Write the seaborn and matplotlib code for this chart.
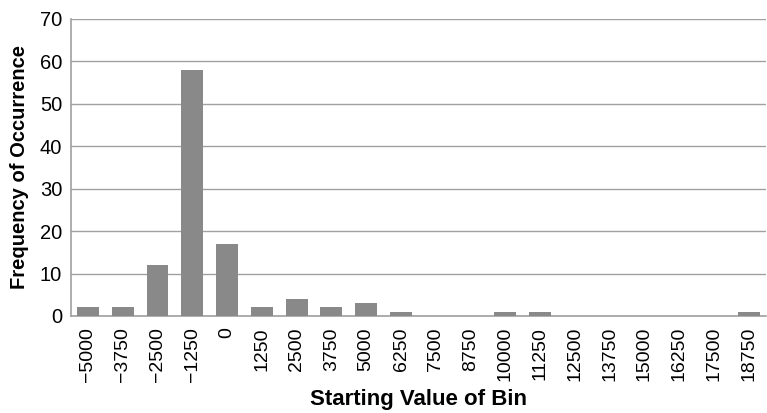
import matplotlib
matplotlib.use("Agg")
import matplotlib.pyplot as plt
import seaborn as sns
import pandas as pd

bins = [-5000, -3750, -2500, -1250, 0, 1250, 2500, 3750, 5000, 6250,
        7500, 8750, 10000, 11250, 12500, 13750, 15000, 16250, 17500, 18750]
counts = [2, 2, 12, 58, 17, 2, 4, 2, 3, 1, 0, 0, 1, 1, 0, 0, 0, 0, 0, 1]
labels = [str(b).replace("-", "\u2212") for b in bins]

sns.set_theme(style="white")
plt.rcParams['font.family'] = ['Liberation Sans', 'DejaVu Sans']
plt.rcParams['text.color'] = 'black'
plt.rcParams['axes.labelcolor'] = 'black'
plt.rcParams['xtick.color'] = 'black'
plt.rcParams['ytick.color'] = 'black'

df = pd.DataFrame({"bin": labels, "count": counts})

fig = plt.figure(figsize=(7.67, 4.13), dpi=100)
ax = fig.add_axes([0.092, 0.235, 0.907, 0.719])
sns.barplot(data=df, x="bin", y="count", color="#898989", width=0.63,
            saturation=1, linewidth=0, ax=ax, zorder=3)
ax.set_ylim(0, 70)
ax.set_yticks(range(0, 71, 10))
ax.set_xlim(-0.5, len(bins) - 0.5)
ax.yaxis.grid(True, color="#a0a0a0", linewidth=1, zorder=0)
ax.set_axisbelow(True)
for s in ["top", "right"]:
    ax.spines[s].set_visible(False)
for s in ["left", "bottom"]:
    ax.spines[s].set_color("#a0a0a0")
    ax.spines[s].set_linewidth(1.2)
ax.tick_params(axis="x", labelrotation=90, labelsize=14, length=0, pad=8)
ax.tick_params(axis="y", labelsize=14.5, length=0, pad=6)
ax.set_xlabel("Starting Value of Bin", fontsize=16, fontweight="bold", labelpad=5)
ax.set_ylabel("Frequency of Occurrence", fontsize=14.5, fontweight="bold", labelpad=8)
fig.savefig("out.png", dpi=100)
